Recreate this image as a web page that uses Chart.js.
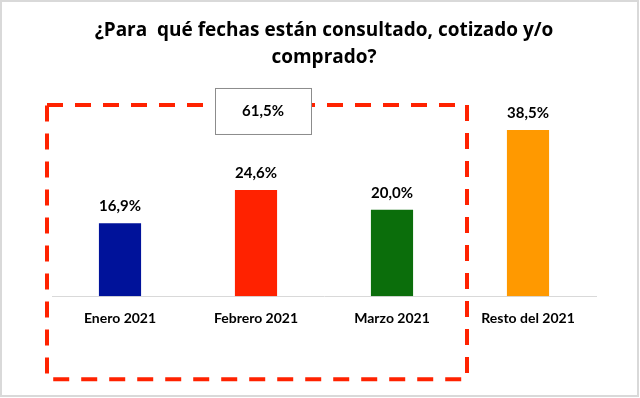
<!DOCTYPE html>
<html><head><meta charset="utf-8">
<script src="https://cdn.jsdelivr.net/npm/chart.js@4"></script>
<style>html,body{margin:0;padding:0;background:#fff}#wrap{width:640px;height:398px;position:relative}</style>
</head><body><div id="wrap"><canvas id="c" width="640" height="398"></canvas></div>
<script>
const categories = ['Enero 2021', 'Febrero 2021', 'Marzo 2021', 'Resto del 2021'];
const values = [16.9, 24.6, 20.0, 38.5];
const barColors = ['#00129A', '#FF2200', '#0B6E0B', '#FF9900'];
const groupedCount = 3; // first three months are grouped
const titleLines = ['¿Para  qué fechas están consultado, cotizado y/o', 'comprado?'];

const fmt = v => v.toFixed(1).replace('.', ',') + '%';
const groupTotal = values.slice(0, groupedCount).reduce((a, b) => a + b, 0);
const FONT = 'Lato, "Open Sans", sans-serif';
const TFONT = '"Open Sans", Lato, sans-serif';

const overlay = {
  id: 'overlay',
  afterDatasetsDraw(chart) {
    const ctx = chart.ctx;
    const meta = chart.getDatasetMeta(0);
    const xs = chart.scales.x, ys = chart.scales.y;
    const area = chart.chartArea;
    ctx.save();
    // value labels
    ctx.font = 'bold 15px ' + FONT;
    ctx.fillStyle = '#000';
    ctx.textAlign = 'center';
    ctx.textBaseline = 'middle';
    meta.data.forEach((bar, i) => {
      ctx.fillText(fmt(values[i]), bar.x, bar.y - 17);
    });
    // dashed group rectangle
    const step = xs.getPixelForValue(1) - xs.getPixelForValue(0);
    const left = xs.getPixelForValue(0) - step / 2 - 5;
    const right = (xs.getPixelForValue(groupedCount - 1) + xs.getPixelForValue(groupedCount)) / 2 + 7;
    const top = ys.getPixelForValue(44.3);
    const bottom = area.bottom + 83;
    ctx.strokeStyle = '#FF2200';
    ctx.lineWidth = 4;
    ctx.setLineDash([16, 12]);
    ctx.strokeRect(left, top, right - left, bottom - top);
    ctx.setLineDash([]);
    // total box
    const cx = xs.getPixelForValue(1) + 7;
    const bw = 96, bh = 46;
    const by = top - 17;
    ctx.fillStyle = '#fff';
    ctx.fillRect(cx - bw / 2, by, bw, bh);
    ctx.strokeStyle = '#8c8c8c';
    ctx.lineWidth = 1;
    ctx.strokeRect(cx - bw / 2 + 0.5, by + 0.5, bw, bh);
    ctx.fillStyle = '#000';
    ctx.font = 'bold 15px ' + FONT;
    ctx.fillText(fmt(groupTotal), cx, by + bh / 2);
    // outer border
    ctx.strokeStyle = '#d9d9d9';
    ctx.lineWidth = 2;
    ctx.strokeRect(1, 1, chart.width - 3, chart.height - 3);
    ctx.restore();
  }
};

new Chart(document.getElementById('c'), {
  type: 'bar',
  data: {
    labels: categories,
    datasets: [{ data: values, backgroundColor: barColors, barPercentage: 0.62, categoryPercentage: 0.5 }]
  },
  options: {
    responsive: false,
    animation: false,
    layout: { padding: { left: 52, right: 44, top: 0, bottom: 57 } },
    plugins: {
      legend: { display: false },
      tooltip: { enabled: false },
      title: {
        display: true,
        text: titleLines,
        color: '#000',
        font: { family: TFONT, size: 19, weight: 'bold', lineHeight: 1.42 },
        padding: { top: 17, bottom: 31 }
      }
    },
    scales: {
      x: {
        grid: { display: false, drawTicks: false },
        border: { display: true, color: '#d9d9d9', width: 1 },
        ticks: { color: '#000', padding: 14, font: { family: FONT, size: 14, weight: 'bold' } }
      },
      y: {
        display: false,
        min: 0, max: 45
      }
    }
  },
  plugins: [overlay]
});
</script></body></html>
